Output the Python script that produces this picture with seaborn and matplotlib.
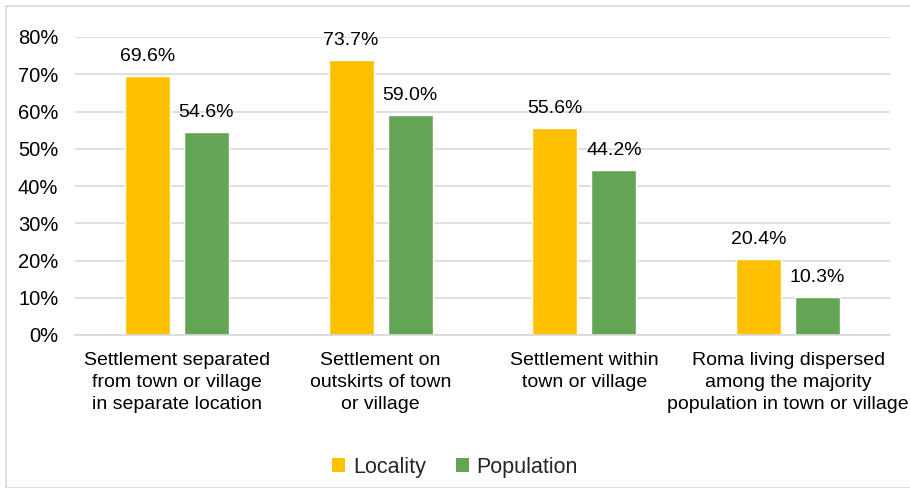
import matplotlib
matplotlib.use("Agg")
import matplotlib.pyplot as plt
import seaborn as sns
import pandas as pd
from matplotlib.patches import Rectangle, Patch

categories = [
    "Settlement separated\nfrom town or village\nin separate location",
    "Settlement on\noutskirts of town\nor village",
    "Settlement within\ntown or village",
    "Roma living dispersed\namong the majority\npopulation in town or village",
]
series = ["Locality", "Population"]
locality = [69.6, 73.7, 55.6, 20.4]
population = [54.6, 59.0, 44.2, 10.3]
yticks = [0, 10, 20, 30, 40, 50, 60, 70, 80]
colors = ["#FFC000", "#64A555"]

df = pd.DataFrame({
    "category": categories * 2,
    "series": [series[0]] * 4 + [series[1]] * 4,
    "value": locality + population,
})

sns.set_theme(style="white")
plt.rcParams["font.family"] = ["Liberation Sans", "DejaVu Sans"]

fig = plt.figure(figsize=(9.1, 4.88), dpi=100)
ax = fig.add_axes([75 / 910, 1 - 335 / 488, (890 - 75) / 910, (335 - 37) / 488])

sns.barplot(data=df, x="category", y="value", hue="series", order=categories,
            hue_order=series, palette=colors, width=0.58, gap=0.24,
            saturation=1, ax=ax, legend=False)

ax.set_ylim(0, 80)
ax.set_yticks(yticks)
ax.set_yticklabels([f"{t}%" for t in yticks], fontsize=14.5, color="#000000")
ax.set_xlim(-0.5, 3.5)
ax.tick_params(axis="x", labelsize=14, colors="#000000", length=0, pad=12)
ax.tick_params(axis="y", length=0, pad=12)
for lab in ax.get_xticklabels():
    lab.set_linespacing(1.4)
ax.set_xlabel("")
ax.set_ylabel("")
ax.yaxis.grid(True, color="#D9D9D9", linewidth=1.2)
ax.set_axisbelow(True)
for s in ["top", "right", "left"]:
    ax.spines[s].set_visible(False)
ax.spines["bottom"].set_color("#D9D9D9")
ax.spines["bottom"].set_linewidth(1.2)

for container in ax.containers:
    ax.bar_label(container, labels=[f"{v:.1f}%" for v in container.datavalues],
                 padding=8, fontsize=14, color="#000000")

handles = [Patch(facecolor=c, edgecolor="none") for c in colors]
fig.legend(handles, series, loc="center", bbox_to_anchor=(455 / 910, 1 - 467 / 488),
           ncol=2, frameon=False, fontsize=15.5, handlelength=0.6, handleheight=0.6,
           handletextpad=0.35, columnspacing=1.4)

fig.patches.append(Rectangle((6 / 910, 0), 1, 1 - 6 / 488, transform=fig.transFigure,
                             fill=False, edgecolor="#D9D9D9", linewidth=1.2))

fig.savefig("out.png", dpi=100)
